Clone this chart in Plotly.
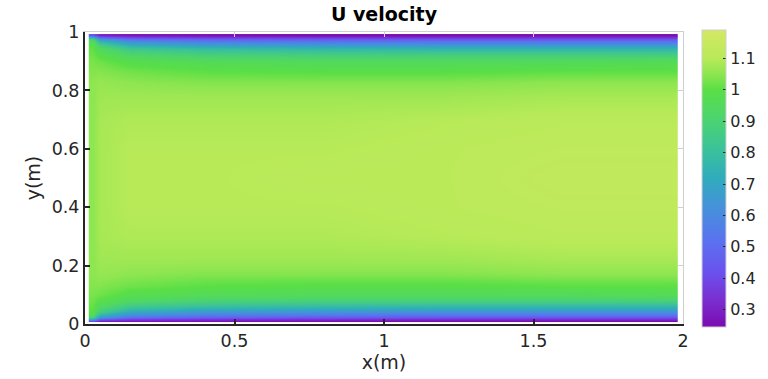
import plotly.graph_objects as go

# ---- data ----
x_pos = [0.025, 0.05, 0.15, 0.4, 0.8, 1.2, 1.6, 1.95, 1.972]
y_pos = [0.010, 0.016, 0.025, 0.035, 0.045, 0.06, 0.08, 0.10, 0.13, 0.17, 0.22, 0.30, 0.40, 0.50,
         0.60, 0.70, 0.78, 0.83, 0.87, 0.90, 0.92, 0.94, 0.955, 0.965, 0.975, 0.984, 0.990]
u_vals = [
    [0.42, 0.30, 0.27, 0.26, 0.25, 0.25, 0.25, 0.25, 0.25],
    [0.72, 0.46, 0.38, 0.35, 0.34, 0.33, 0.33, 0.33, 0.33],
    [0.90, 0.66, 0.52, 0.47, 0.45, 0.44, 0.44, 0.44, 0.44],
    [0.97, 0.79, 0.64, 0.58, 0.56, 0.55, 0.55, 0.55, 0.55],
    [1.00, 0.88, 0.74, 0.68, 0.66, 0.65, 0.65, 0.65, 0.65],
    [1.01, 0.95, 0.85, 0.80, 0.78, 0.77, 0.77, 0.77, 0.77],
    [1.02, 0.99, 0.93, 0.89, 0.88, 0.88, 0.88, 0.88, 0.88],
    [1.03, 1.02, 0.98, 0.96, 0.95, 0.95, 0.95, 0.96, 0.96],
    [1.04, 1.04, 1.02, 1.00, 0.99, 0.99, 1.00, 1.00, 1.00],
    [1.05, 1.06, 1.05, 1.04, 1.04, 1.04, 1.05, 1.05, 1.05],
    [1.05, 1.07, 1.07, 1.07, 1.07, 1.07, 1.08, 1.08, 1.08],
    [1.05, 1.08, 1.09, 1.09, 1.09, 1.10, 1.11, 1.11, 1.11],
    [1.05, 1.08, 1.10, 1.10, 1.10, 1.11, 1.12, 1.12, 1.12],
    [1.05, 1.08, 1.10, 1.10, 1.11, 1.11, 1.13, 1.13, 1.13],
    [1.05, 1.08, 1.10, 1.10, 1.10, 1.11, 1.12, 1.12, 1.12],
    [1.05, 1.08, 1.09, 1.09, 1.09, 1.10, 1.11, 1.11, 1.11],
    [1.05, 1.07, 1.07, 1.07, 1.07, 1.07, 1.08, 1.08, 1.08],
    [1.05, 1.06, 1.05, 1.04, 1.04, 1.04, 1.05, 1.05, 1.05],
    [1.04, 1.04, 1.02, 1.00, 0.99, 0.99, 1.00, 1.00, 1.00],
    [1.03, 1.02, 0.98, 0.96, 0.95, 0.95, 0.95, 0.96, 0.96],
    [1.02, 0.99, 0.93, 0.89, 0.88, 0.88, 0.88, 0.88, 0.88],
    [1.01, 0.95, 0.85, 0.80, 0.78, 0.77, 0.77, 0.77, 0.77],
    [1.00, 0.88, 0.74, 0.68, 0.66, 0.65, 0.65, 0.65, 0.65],
    [0.97, 0.79, 0.64, 0.58, 0.56, 0.55, 0.55, 0.55, 0.55],
    [0.90, 0.66, 0.52, 0.47, 0.45, 0.44, 0.44, 0.44, 0.44],
    [0.72, 0.46, 0.38, 0.35, 0.34, 0.33, 0.33, 0.33, 0.33],
    [0.42, 0.30, 0.27, 0.26, 0.25, 0.25, 0.25, 0.25, 0.25],
]
x_ticks = [0, 0.5, 1, 1.5, 2]
x_tick_text = ["0", "0.5", "1", "1.5", "2"]
y_ticks = [0, 0.2, 0.4, 0.6, 0.8, 1]
y_tick_text = ["0", "0.2", "0.4", "0.6", "0.8", "1"]
cb_ticks = [0.3, 0.4, 0.5, 0.6, 0.7, 0.8, 0.9, 1.0, 1.1]
cb_tick_text = ["0.3", "0.4", "0.5", "0.6", "0.7", "0.8", "0.9", "1", "1.1"]
z_min, z_max = 0.245, 1.19

# colormap stops (value, colour)
cmap_vals = [0.245, 0.33, 0.42, 0.52, 0.62, 0.72, 0.82, 0.92, 1.00, 1.05, 1.10, 1.19]
cmap_cols = ["#7b0bb0", "#7a2ed0", "#6a52ee", "#5a72f0", "#4690dc", "#30acbc",
             "#3cc496", "#4ed66a", "#5adf46", "#8ee650", "#b8ea58", "#d4e864"]
colorscale = [[(v - z_min) / (z_max - z_min), c] for v, c in zip(cmap_vals, cmap_cols)]

W, H = 768, 379
L, R, T, B = 85, 85, 32, 55
plot_w = W - L - R
plot_h = H - T - B
font_fam = "DejaVu Sans, Liberation Sans, sans-serif"
dark = "#262626"
light = "#d0d0d0"

fig = go.Figure()
fig.add_trace(go.Heatmap(
    x=x_pos, y=y_pos, z=u_vals,
    zmin=z_min, zmax=z_max, zsmooth="best",
    colorscale=colorscale,
    colorbar=dict(
        x=1 + (702 - (L + plot_w)) / plot_w, xanchor="left",
        y=(T + plot_h - 178.5) / plot_h, yanchor="middle",
        len=297, lenmode="pixels", thickness=24, thicknessmode="pixels",
        outlinecolor=light, outlinewidth=1,
        ticks="inside", ticklen=3, tickcolor=dark,
        tickvals=cb_ticks, ticktext=cb_tick_text,
        tickfont=dict(family=font_fam, size=16, color=dark),
        xpad=0, ypad=0,
    ),
))
# invisible trace on mirrored axes (light box on top/right)
fig.add_trace(go.Scatter(x=[None], y=[None], xaxis="x2", yaxis="y2",
                         showlegend=False, hoverinfo="skip"))

fig.update_layout(
    width=W, height=H,
    margin=dict(l=L, r=R, t=T, b=B, autoexpand=False),
    paper_bgcolor="white", plot_bgcolor="white",
    font=dict(family=font_fam, color=dark),
    title=dict(text="<b>U velocity</b>", x=0.5, xref="paper", xanchor="center",
               y=1 - 14 / H, yref="container", yanchor="middle",
               font=dict(family=font_fam, size=19, color="black")),
    xaxis=dict(range=[0, 2], tickvals=x_ticks, ticktext=x_tick_text,
               showline=True, linecolor=dark, linewidth=2,
               ticks="inside", ticklen=5, tickcolor=dark, tickwidth=1.5,
               showgrid=False, zeroline=False,
               tickfont=dict(size=17.5, color=dark),
               title=dict(text="x(m)", font=dict(size=19, color=dark), standoff=5)),
    yaxis=dict(range=[0, 1], tickvals=y_ticks, ticktext=y_tick_text,
               showline=True, linecolor=dark, linewidth=2,
               ticks="inside", ticklen=5, tickcolor=dark, tickwidth=1.5,
               showgrid=False, zeroline=False,
               tickfont=dict(size=17.5, color=dark),
               title=dict(text="y(m)", font=dict(size=19, color=dark), standoff=6)),
    xaxis2=dict(range=[0, 2], overlaying="x", side="top", anchor="y",
                tickvals=x_ticks, showticklabels=False,
                showline=True, linecolor=light, linewidth=1,
                ticks="inside", ticklen=5, tickcolor=light,
                showgrid=False, zeroline=False),
    yaxis2=dict(range=[0, 1], overlaying="y", side="right", anchor="x",
                tickvals=y_ticks, showticklabels=False,
                showline=True, linecolor=light, linewidth=1,
                ticks="inside", ticklen=5, tickcolor=light,
                showgrid=False, zeroline=False),
)

fig.write_html("out.html")
